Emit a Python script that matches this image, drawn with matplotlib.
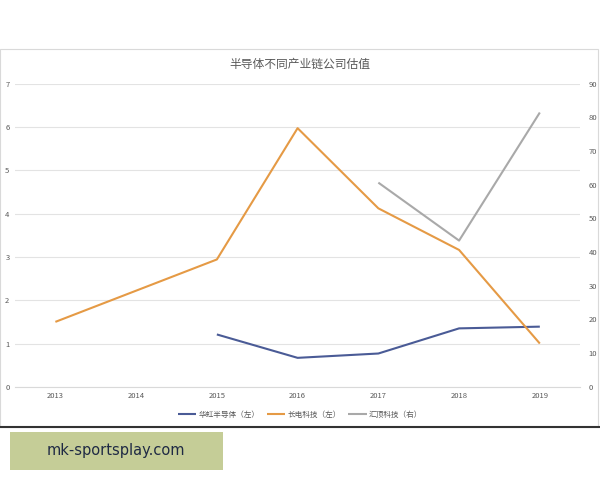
import matplotlib
matplotlib.use("Agg")
import matplotlib.pyplot as plt
from matplotlib.patches import Rectangle
from matplotlib.lines import Line2D

plt.rcParams['font.family'] = ['Noto Sans CJK SC', 'DejaVu Sans']

years = ['2013', '2014', '2015', '2016', '2017', '2018', '2019']
huahong = [None, None, 1.21, 0.67, 0.77, 1.35, 1.39]
changdian = [1.50, 2.22, 2.94, 5.97, 4.12, 3.16, 1.00]
huiding = [None, None, None, None, 60.6, 43.4, 81.4]
left_ticks = [0, 1, 2, 3, 4, 5, 6, 7]
right_ticks = [0, 10, 20, 30, 40, 50, 60, 70, 80, 90]
labels = ['华虹半导体（左）', '长电科技（左）', '汇顶科技（右）']
title = '半导体不同产业链公司估值'
watermark = 'mk-sportsplay.com'

c_blue = '#4a5b96'
c_orange = '#e59a45'
c_gray = '#a9a9a9'

fig = plt.figure(figsize=(6, 4.8), dpi=100)
fig.patch.set_facecolor('white')

# chart frame
fig.add_artist(Rectangle((0.0, (480 - 427) / 480), 0.996, (427 - 49) / 480,
                         transform=fig.transFigure, facecolor='white',
                         edgecolor='#d9d9d9', lw=0.8, zorder=0))
fig.add_artist(Line2D([0, 1], [(480 - 427) / 480] * 2, transform=fig.transFigure,
                      color='#333333', lw=1.5))

ax = fig.add_axes([0.025, 0.194, 0.942, 0.632])
ax2 = ax.twinx()

x = list(range(len(years)))

def seg(vals):
    xs = [i for i, v in zip(x, vals) if v is not None]
    ys = [v for v in vals if v is not None]
    return xs, ys

l1, = ax.plot(*seg(huahong), color=c_blue, lw=1.5, solid_capstyle='butt')
l2, = ax.plot(*seg(changdian), color=c_orange, lw=1.5, solid_capstyle='butt')
l3, = ax2.plot(*seg(huiding), color=c_gray, lw=1.5, solid_capstyle='butt')

ax.set_xlim(-0.5, 6.5)
ax.set_ylim(0, 7)
ax2.set_ylim(0, 90)
ax.set_xticks(x)
ax.set_xticklabels(years)
ax.set_yticks(left_ticks)
ax2.set_yticks(right_ticks)

ax.grid(axis='y', color='#e3e3e3', lw=0.8)
ax.set_axisbelow(True)
for a in (ax, ax2):
    for s in a.spines.values():
        s.set_visible(False)
    a.tick_params(length=0, labelsize=5.5, colors='#595959')
ax.spines['bottom'].set_visible(True)
ax.spines['bottom'].set_color('#d9d9d9')
ax.tick_params(axis='y', pad=4)
ax2.tick_params(axis='y', pad=6)
ax.tick_params(axis='x', pad=4)

fig.text(0.5, (480 - 64) / 480, title, ha='center', va='center',
         fontsize=8.5, color='#595959')

fig.legend([l1, l2, l3], labels, loc='center', bbox_to_anchor=(0.5, (480 - 415) / 480),
           ncol=3, frameon=False, fontsize=5.5, handlelength=2.4, columnspacing=1.0,
           handletextpad=0.3, labelcolor='#595959')

# watermark
fig.add_artist(Rectangle((10 / 600, (480 - 470) / 480), 213 / 600, 38 / 480,
                         transform=fig.transFigure, facecolor='#c5cd97',
                         edgecolor='none'))
fig.text(116 / 600, (480 - 451) / 480, watermark, ha='center', va='center',
         fontsize=10.5, color='#1f2a44', family=['DejaVu Sans'])

fig.savefig('out.png', dpi=100)
